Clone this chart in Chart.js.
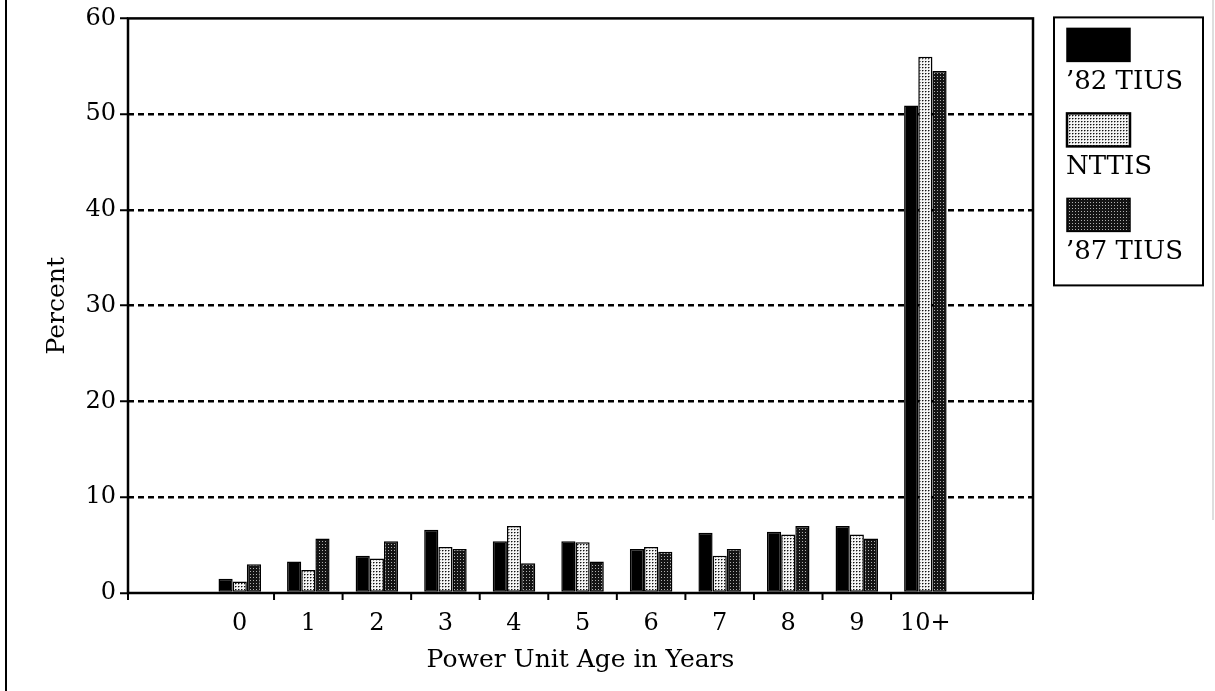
<!DOCTYPE html>
<html>
<head>
<meta charset="utf-8">
<script src="https://cdn.jsdelivr.net/npm/chart.js@4.4.1/dist/chart.umd.min.js"></script>
<style>
  html, body { margin: 0; padding: 0; background: #fff; }
  #wrap { width: 1215px; height: 691px; position: relative; }
</style>
</head>
<body>
<div id="wrap"><canvas id="ageChart"></canvas></div>
<script>
// power unit age categories and shares (percent)
const categories = ['0', '1', '2', '3', '4', '5', '6', '7', '8', '9', '10+'];
const tius82 = [1.5, 3.3, 3.9, 6.6, 5.4, 5.4, 4.6, 6.3, 6.4, 7.0, 50.9];
const nttis  = [1.2, 2.4, 3.6, 4.8, 7.0, 5.3, 4.8, 3.9, 6.1, 6.1, 56.0];
const tius87 = [3.0, 5.7, 5.4, 4.6, 3.1, 3.3, 4.3, 4.6, 7.0, 5.7, 54.5];
const seriesNames = ['\u201982 TIUS', 'NTTIS', '\u201987 TIUS'];
const yTicks = [0, 10, 20, 30, 40, 50, 60];

const FONT = "'DejaVu Serif', 'Liberation Serif', serif";

function dotPattern(bg, dots) {
  const c = document.createElement('canvas');
  c.width = 3; c.height = 3;
  const g = c.getContext('2d');
  g.fillStyle = bg;
  g.fillRect(0, 0, 3, 3);
  dots.forEach(d => { g.fillStyle = d[2]; g.fillRect(d[0], d[1], 1, 1); });
  return g.createPattern(c, 'repeat');
}

const fills = [
  '#000000',
  dotPattern('#f4f4f4', [[1, 1, '#111'], [2, 1, '#888'], [1, 2, '#aaa']]),
  dotPattern('#141414', [[1, 1, '#b0b0b0']])
];

const toPoints = arr => arr.map((v, i) => ({ x: i, y: v }));

// frame, x tick marks and the stacked legend box
const decorations = {
  id: 'decorations',
  afterDraw(chart) {
    const { ctx, chartArea: a, scales: { x } } = chart;
    ctx.save();
    ctx.strokeStyle = '#000';
    ctx.lineWidth = 2.5;
    ctx.strokeRect(a.left, a.top, a.right - a.left, a.bottom - a.top);

    // tick marks between categories
    ctx.lineWidth = 2;
    const marks = [a.left, a.right];
    for (let i = 0; i < categories.length - 1; i++) marks.push(x.getPixelForValue(i + 0.5));
    marks.forEach(px => {
      ctx.beginPath();
      ctx.moveTo(px, a.bottom);
      ctx.lineTo(px, a.bottom + 7);
      ctx.stroke();
    });

    // outer page edge
    ctx.lineWidth = 2;
    ctx.beginPath();
    ctx.moveTo(6, 0);
    ctx.lineTo(6, chart.height);
    ctx.stroke();
    ctx.strokeStyle = '#bdbdbd';
    ctx.lineWidth = 1;
    ctx.beginPath();
    ctx.moveTo(1213, 0);
    ctx.lineTo(1213, 520);
    ctx.stroke();

    // legend: swatch above label
    const bx = a.right + 21, by = a.top - 1;
    ctx.strokeStyle = '#000';
    ctx.lineWidth = 2;
    ctx.strokeRect(bx, by, 149, 268);
    ctx.font = '26px ' + FONT;
    ctx.textBaseline = 'middle';
    chart.data.datasets.forEach((ds, i) => {
      const sy = by + 11 + i * 85;
      ctx.fillStyle = ds.backgroundColor;
      ctx.fillRect(bx + 13, sy, 63, 33);
      ctx.lineWidth = i === 1 ? 2.5 : 1.5;
      ctx.strokeRect(bx + 13, sy, 63, 33);
      ctx.fillStyle = '#000';
      ctx.fillText(ds.label, bx + 12, sy + 54);
    });
    ctx.restore();
  }
};

const chart = new Chart(document.getElementById('ageChart'), {
  type: 'bar',
  data: {
    datasets: [tius82, nttis, tius87].map((vals, i) => ({
      label: seriesNames[i],
      data: toPoints(vals),
      backgroundColor: fills[i],
      borderColor: '#000',
      borderWidth: 1.5,
      borderSkipped: false,
      categoryPercentage: 0.62,
      barPercentage: 1.0
    }))
  },
  options: {
    responsive: true,
    maintainAspectRatio: false,
    animation: false,
    layout: { padding: { top: 18, right: 182, bottom: 0, left: 0 } },
    plugins: { legend: { display: false }, tooltip: { enabled: false } },
    scales: {
      x: {
        type: 'linear',
        min: -1.63,
        max: 11.57,
        offset: false,
        afterBuildTicks: s => { s.ticks = categories.map((c, i) => ({ value: i })); },
        afterFit: s => { s.height = 98; },
        grid: { display: true, drawOnChartArea: false, drawTicks: false, offset: false },
        border: { display: false },
        ticks: {
          color: '#000',
          padding: 16,
          autoSkip: false,
          maxRotation: 0,
          font: { family: FONT, size: 24 },
          callback: v => categories[v]
        },
        title: {
          display: true,
          text: 'Power Unit Age in Years',
          color: '#000',
          font: { family: FONT, size: 25 },
          padding: { top: 0, bottom: 16 }
        }
      },
      y: {
        min: 0,
        max: 60,
        afterBuildTicks: s => { s.ticks = yTicks.map(v => ({ value: v })); },
        afterFit: s => { s.width = 128; },
        grid: {
          color: c => (c.tick && (c.tick.value === 0 || c.tick.value === 60)) ? 'rgba(0,0,0,0)' : '#000',
          lineWidth: 2.5,
          tickColor: '#000',
          tickLength: 8,
          tickWidth: 2,
          tickBorderDash: []
        },
        border: { display: false, dash: [6, 4] },
        ticks: {
          color: '#000',
          padding: 4,
          font: { family: FONT, size: 24 }
        },
        title: {
          display: true,
          text: 'Percent',
          color: '#000',
          font: { family: FONT, size: 25 },
          padding: { top: 42, bottom: 0 }
        }
      }
    }
  },
  plugins: [decorations]
});
</script>
</body>
</html>
